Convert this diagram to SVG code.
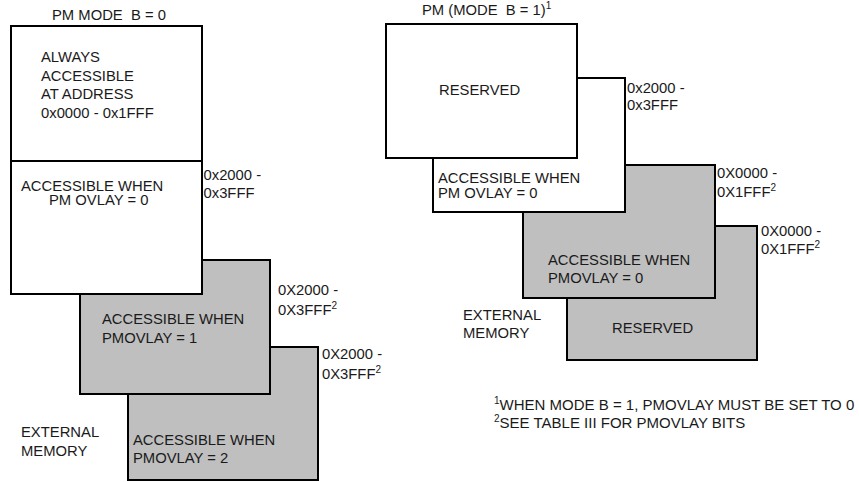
<svg xmlns="http://www.w3.org/2000/svg" width="859" height="482" viewBox="0 0 859 482">
<style>
text{font-family:"Liberation Sans",Arial,sans-serif;font-size:14.8px;fill:#1a1a1a;white-space:pre}
.w{fill:#fff;stroke:#000;stroke-width:2}
.g{fill:#bfbfbf;stroke:#000;stroke-width:2}
.s{font-size:10px}
.n{font-size:15px}
</style>
<rect width="859" height="482" fill="#fff"/>
<g id="connectors"></g>
<text x="52" y="20">PM MODE  B = 0</text>
<g id="ext-pmovlay2">
<rect class="g" x="128" y="347" width="190" height="133"/>
<text x="133" y="445">ACCESSIBLE WHEN</text>
<text x="133" y="463">PMOVLAY = 2</text>
<text x="322" y="359">0X2000 -</text>
<text x="322" y="379">0X3FFF<tspan class="s" dy="-6">2</tspan></text>
</g>
<g id="ext-pmovlay1">
<rect class="g" x="80" y="260" width="190" height="134"/>
<text x="102" y="324">ACCESSIBLE WHEN</text>
<text x="102" y="342.5">PMOVLAY = 1</text>
<text x="278" y="295">0X2000 -</text>
<text x="278" y="315">0X3FFF<tspan class="s" dy="-6">2</tspan></text>
</g>
<g id="always">
<rect class="w" x="11" y="26" width="191" height="135"/>
<text x="41" y="62">ALWAYS</text>
<text x="41" y="80.5">ACCESSIBLE</text>
<text x="41" y="99">AT ADDRESS</text>
<text x="41" y="117.5">0x0000 - 0x1FFF</text>
</g>
<g id="pmovlay0-left">
<rect class="w" x="11" y="161" width="191" height="133"/>
<text x="21" y="190.5">ACCESSIBLE WHEN</text>
<text x="49" y="205">PM OVLAY = 0</text>
<text x="203.5" y="180">0x2000 -</text>
<text x="203.5" y="197.5">0x3FFF</text>
</g>
<g id="ext-left">
<text x="21" y="437">EXTERNAL</text>
<text x="21" y="456">MEMORY</text>
</g>
<text x="422" y="15">PM (MODE  B = 1)<tspan class="s" dy="-6">1</tspan></text>
<g id="ext-reserved">
<rect class="g" x="567" y="226" width="190" height="134"/>
<text x="612" y="333">RESERVED</text>
<text x="761" y="236">0X0000 -</text>
<text x="761" y="254">0X1FFF<tspan class="s" dy="-6">2</tspan></text>
</g>
<g id="ext-pmovlay0">
<rect class="g" x="523" y="165" width="192" height="133"/>
<text x="548" y="265">ACCESSIBLE WHEN</text>
<text x="548" y="283">PMOVLAY = 0</text>
<text x="717" y="178">0X0000 -</text>
<text x="717" y="197">0X1FFF<tspan class="s" dy="-6">2</tspan></text>
</g>
<g id="pmovlay0-right">
<rect class="w" x="433" y="78" width="192" height="134"/>
<text x="438" y="183">ACCESSIBLE WHEN</text>
<text x="438" y="197.5">PM OVLAY = 0</text>
<text x="627" y="93">0x2000 -</text>
<text x="627" y="110">0x3FFF</text>
</g>
<g id="reserved">
<rect class="w" x="386" y="24" width="191" height="134"/>
<text x="439" y="95">RESERVED</text>
</g>
<g id="ext-right">
<text x="463" y="320">EXTERNAL</text>
<text x="463" y="338">MEMORY</text>
</g>
<g id="notes">
<text class="n" x="494" y="410"><tspan class="s" dy="-6">1</tspan><tspan dy="6">WHEN MODE B = 1, PMOVLAY MUST BE SET TO 0</tspan></text>
<text class="n" x="494" y="428"><tspan class="s" dy="-6">2</tspan><tspan dy="6">SEE TABLE III FOR PMOVLAY BITS</tspan></text>
</g>
</svg>
